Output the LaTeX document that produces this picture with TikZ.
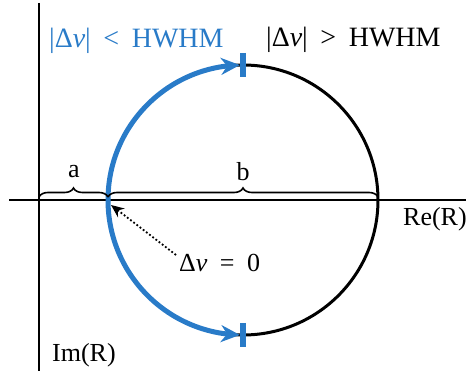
\documentclass[tikz,border=0pt]{standalone}
\usepackage{fontspec}
\setmainfont{Liberation Serif}
\newfontfamily\tnr{Liberation Serif}
\usetikzlibrary{arrows.meta,decorations.pathreplacing,bending}
\definecolor{myblue}{RGB}{41,123,200}
\newcommand{\relsp}{\hspace{0.45em}}
\begin{document}
\begin{tikzpicture}[x=1pt,y=-1pt,
  axis/.style={line width=2pt},
  lbl/.style={font=\tnr\fontsize{26}{28}\selectfont, inner sep=0pt},
  hdr/.style={font=\tnr\fontsize{28}{30}\selectfont, inner sep=0pt},
  bracestyle/.style={decorate, decoration={brace, amplitude=9pt}, line width=1.6pt},
  bluearc/.style={myblue, line width=5pt, -{Stealth[length=19pt,width=17pt,flex]}},
  tick/.style={myblue, line width=6pt},
]
\useasboundingbox (0,0) rectangle (466,371);
% coordinates
\coordinate (O) at (243,200);
\coordinate (L) at (108,200);
\coordinate (Rt) at (378,200);
\coordinate (T) at (243,65);
\coordinate (B) at (243,335);
\coordinate (xs) at (9,200);
\coordinate (xe) at (466,200);
\coordinate (ys) at (39,3);
\coordinate (ye) at (39,371);
\coordinate (ba0) at (39,197);
\coordinate (ba1) at (108,197);
\coordinate (bb1) at (378,197);
\coordinate (tipL) at (111,205);
% axes
\draw[axis] (xs) -- (xe);
\draw[axis] (ys) -- (ye);
% circle
\draw[line width=3pt] (O) circle[radius=135pt];
% blue arcs
\draw[bluearc] (L) arc[start angle=180, end angle=91.3, radius=135pt];
\draw[bluearc] (L) arc[start angle=180, end angle=268.7, radius=135pt];
% ticks
\draw[tick] ([yshift=12pt]T) -- ([yshift=-12pt]T);
\draw[tick] ([yshift=12pt]B) -- ([yshift=-12pt]B);
% braces
\draw[bracestyle] (ba0) -- (ba1);
\draw[bracestyle] (ba1) -- (bb1);
% labels
\node[lbl] (la) at (74,172) {a};
\node[lbl] (lb) at (243,172) {b};
\node[hdr, myblue, anchor=base west] (hl) at (49,48) {|Δ\textit{ν}|\relsp<\relsp HWHM};
\node[hdr, anchor=base west] (hr) at (266,47) {|Δ\textit{ν}|\relsp>\relsp HWHM};
\node[lbl, anchor=base west] (re) at (403,226) {Re(R)};
\node[lbl, anchor=base west] (im) at (52,362) {Im(R)};
\node[lbl, anchor=base west] (dnu) at (179,272) {Δ\textit{ν}\hspace{0.48em}=\hspace{0.48em}0};
% dotted arrow
\draw[line width=1.8pt, dash pattern=on 1.8pt off 2.2pt, -{Stealth[length=13pt,width=11pt]}]
  ([xshift=-3pt,yshift=17pt]dnu.base west) -- (tipL);
\end{tikzpicture}
\end{document}
